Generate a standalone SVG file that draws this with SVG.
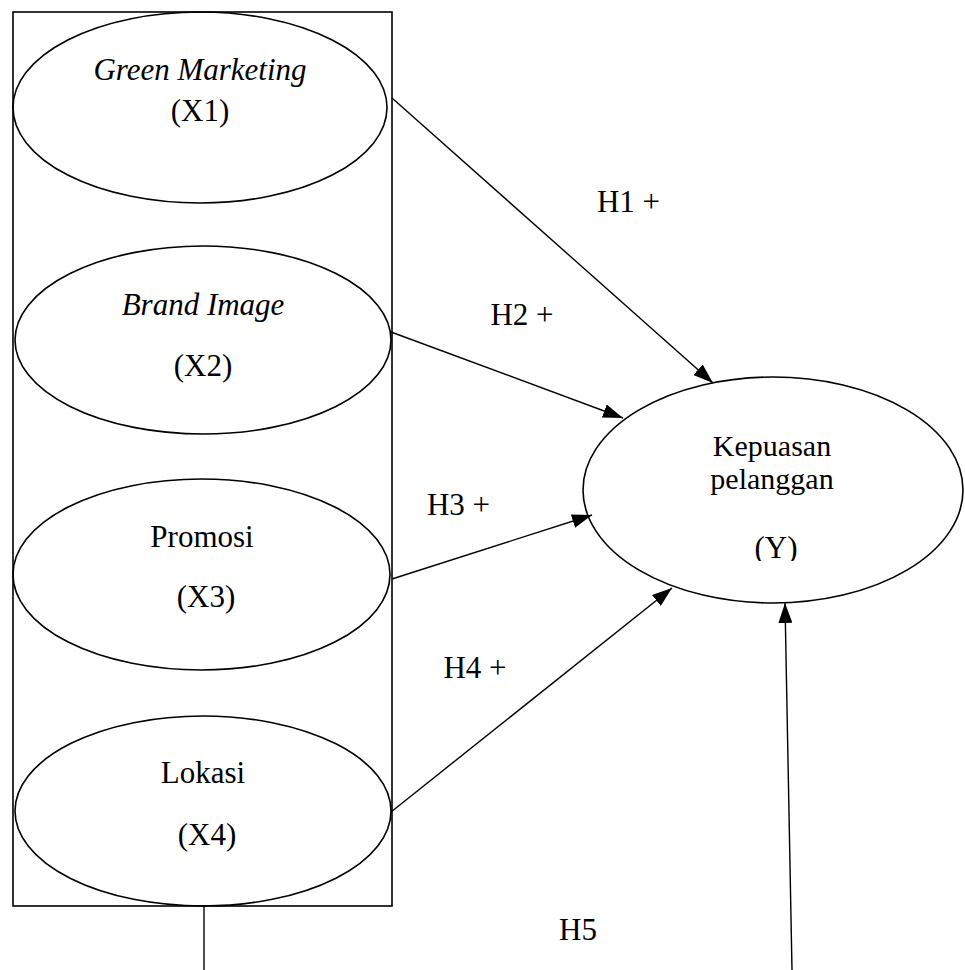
<svg xmlns="http://www.w3.org/2000/svg" width="965" height="970" viewBox="0 0 965 970">
<style>
.n{fill:none;stroke:#000;stroke-width:1.6}
.t{font-family:"Liberation Serif","Times New Roman",serif;font-size:31px;fill:#000;text-anchor:middle}
.s{font-size:30px}
.i{font-style:italic}
.c{stroke:#000;stroke-width:1.4;fill:none}
</style>
<defs>
<marker id="ah" viewBox="0 0 20 14" refX="20" refY="7" markerWidth="20" markerHeight="14" markerUnits="userSpaceOnUse" orient="auto">
<path d="M0,0 L20,7 L0,14 Z" fill="#000"/>
</marker>
<clipPath id="yc"><rect x="700" y="520" width="150" height="41"/></clipPath>
</defs>
<rect id="frame" x="13" y="12" width="379" height="894" class="n"/>
<g id="x1">
<ellipse cx="200" cy="107.5" rx="187" ry="95.5" class="n"/>
<text class="t i" x="200" y="80">Green Marketing</text>
<text class="t" x="200" y="121">(X1)</text>
</g>
<g id="x2">
<ellipse cx="203" cy="340" rx="188" ry="94" class="n"/>
<text class="t i" x="203" y="315">Brand Image</text>
<text class="t" x="203" y="376">(X2)</text>
</g>
<g id="x3">
<ellipse cx="201.5" cy="574.5" rx="188.5" ry="95.5" class="n"/>
<text class="t" x="202" y="547">Promosi</text>
<text class="t" x="206" y="607">(X3)</text>
</g>
<g id="x4">
<ellipse cx="203" cy="811" rx="188" ry="95" class="n"/>
<text class="t" x="203" y="783">Lokasi</text>
<text class="t" x="207" y="845">(X4)</text>
</g>
<g id="y">
<ellipse cx="773" cy="490" rx="190" ry="113" class="n"/>
<text class="t s" x="772" y="456">Kepuasan</text>
<text class="t s" x="772" y="489">pelanggan</text>
<text class="t" x="776" y="558" clip-path="url(#yc)">(Y)</text>
</g>
<g id="connectors">
<line x1="392" y1="98" x2="713" y2="383" class="c" marker-end="url(#ah)"/>
<line x1="391" y1="332" x2="623" y2="418" class="c" marker-end="url(#ah)"/>
<line x1="392" y1="579" x2="592" y2="515" class="c" marker-end="url(#ah)"/>
<line x1="391" y1="812" x2="672" y2="588" class="c" marker-end="url(#ah)"/>
<line x1="204" y1="906" x2="204" y2="970" class="c"/>
<line x1="792" y1="970" x2="785" y2="603" class="c" marker-end="url(#ah)"/>
</g>
<g id="labels">
<text class="t" x="628.5" y="212">H1 +</text>
<text class="t" x="522" y="325">H2 +</text>
<text class="t" x="458.5" y="515">H3 +</text>
<text class="t" x="475" y="678">H4 +</text>
<text class="t" x="578" y="940">H5</text>
</g>
</svg>
